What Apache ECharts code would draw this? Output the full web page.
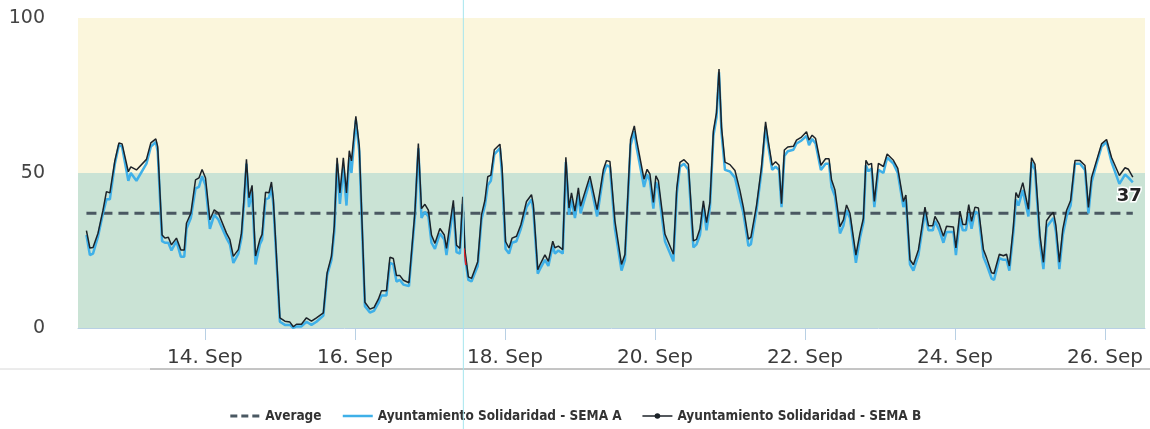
<!DOCTYPE html>
<html>
<head>
<meta charset="utf-8">
<script src="https://cdn.jsdelivr.net/npm/echarts@6/dist/echarts.min.js"></script>
<style>
html,body{margin:0;padding:0;background:#fff;}
#chart{width:1150px;height:429px;}
</style>
</head>
<body>
<div id="chart"></div>
<script>
// Hours since 12 Sep 00:00 for each reading
const hours = [10.1, 11.2, 12.2, 13.8, 15.4, 16.5, 17.6, 19.2, 20.5, 21.5,
 23.5, 24.3, 26.1, 29.3, 30.7, 32.3, 32.9, 34.3, 35.2, 36.3,
 37.3, 38.9, 40.3, 41.4, 42.1, 43.5, 45.0, 46.1, 47.1, 48.2,
 49.6, 51.0, 52.3, 54.9, 56.0, 57.1, 58.7, 59.7, 60.5, 61.3,
 62.1, 63.1, 64.2, 65.6, 66.3, 67.4, 68.5, 69.3, 69.9, 72.0,
 73.6, 75.2, 76.3, 77.3, 78.9, 80.5, 82.1, 83.7, 85.9, 87.1,
 88.5, 89.4, 90.3, 91.2, 92.3, 93.3, 94.2, 94.9, 96.3, 97.4,
 99.2, 100.8, 102.1, 103.5, 104.5, 106.1, 107.2, 108.3, 109.3, 110.4,
 111.5, 113.3, 115.2, 116.3, 117.3, 118.4, 119.5, 120.5, 121.6, 123.2,
 124.6, 125.3, 127.5, 128.5, 129.6, 130.5, 131.2, 132.3, 133.3, 135.3,
 136.5, 137.6, 138.5, 139.5, 140.6, 142.4, 143.1, 144.2, 145.3, 146.3,
 147.7, 149.1, 150.9, 152.5, 153.1, 154.5, 155.2, 156.8, 157.9, 159.3,
 160.0, 161.1, 162.5, 163.5, 164.5, 165.3, 166.4, 167.5, 168.2, 171.2,
 173.5, 175.5, 176.5, 177.6, 179.2, 181.3, 182.4, 184.2, 185.4, 186.1,
 188.5, 189.5, 190.4, 191.5, 192.3, 193.1, 195.2, 197.9, 199.0, 200.0,
 201.3, 202.7, 204.3, 205.3, 206.4, 207.5, 208.5, 209.6, 210.7, 211.7,
 212.5, 213.3, 214.4, 216.0, 217.6, 219.2, 220.3, 221.9, 222.7, 224.5,
 226.1, 227.4, 228.3, 229.5, 230.6, 231.7, 232.5, 233.4, 234.5, 236.3,
 237.3, 238.9, 240.5, 241.3, 242.3, 243.4, 245.1, 246.6, 247.7, 248.5,
 249.6, 251.2, 252.3, 253.3, 254.4, 256.3, 257.6, 258.7, 259.5, 260.3,
 261.3, 262.2, 263.5, 265.1, 266.3, 268.3, 269.7, 271.5, 272.3, 273.6,
 274.7, 276.3, 278.4, 279.5, 280.9, 281.6, 283.0, 284.3, 285.3, 287.5,
 288.3, 289.6, 290.5, 291.5, 292.4, 293.3, 294.4, 295.5, 297.1, 298.1,
 299.7, 300.5, 302.2, 303.5, 304.5, 305.4, 306.7, 307.5, 308.3, 309.7,
 311.5, 312.5, 313.6, 315.2, 316.3, 317.3, 318.4, 319.5, 320.3, 321.4,
 322.5, 323.7, 325.0, 326.4, 328.0, 329.6, 330.7, 331.7, 333.3, 334.9,
 336.5, 338.1, 340.6, 342.4, 343.5, 344.9];

const semaB = [31.4, 25.8, 26, 30.6, 38, 44, 43.6, 54, 59.7, 59.4,
 50.4, 52, 51, 54.4, 59.7, 61, 58.5, 30, 29, 29.3,
 26.8, 29, 25.2, 25.2, 33.8, 37, 47.8, 48.4, 51.1, 48.4,
 34.9, 38.1, 37.1, 30.6, 28.5, 23.1, 25.3, 30.6, 41.5, 54.4,
 42, 46, 23.2, 28.6, 30.2, 43.8, 43.6, 47.1, 41.5, 3.3,
 2.2, 1.9, 0.4, 1.2, 1.2, 3.3, 2.2, 3.3, 4.9, 17.8,
 23.2, 32.9, 54.9, 43.6, 54.9, 43.6, 57.2, 53.9, 68.3, 58.8,
 8.3, 6.1, 6.6, 9.3, 12, 12, 22.8, 22.4, 16.9, 16.9,
 15.4, 14.6, 37.5, 59.5, 38.5, 39.9, 38, 30, 27.3, 32.1,
 30, 25.7, 41.2, 26.7, 25.7, 42.3, 25.1, 16.5, 16, 21.4,
 36.5, 41.2, 48.8, 49.3, 57.5, 59.3, 51.6, 27.9, 25.8, 29,
 29.6, 33.3, 40.8, 43, 39.7, 18.8, 20.4, 23.6, 21.5, 28,
 25.9, 26.4, 25.3, 55.1, 38.7, 43.6, 37.7, 45.2, 39.3, 49,
 38.2, 51.1, 54, 53.7, 34.5, 20.5, 23.7, 60.8, 65.2, 60.8,
 48, 51.2, 49.6, 40.5, 49.1, 47.5, 30.3, 23.8, 45.3, 53.4,
 54.3, 52.8, 28.1, 28.6, 32, 41, 34, 40.5, 63.6, 69.5,
 83.5, 64.8, 53.5, 52.7, 50.8, 44.3, 38.9, 28.7, 29.3, 39.5,
 52, 66.5, 60, 52.5, 53.6, 52.5, 40.1, 57.4, 58.4, 58.6,
 60.6, 61.6, 63.3, 60.6, 62.2, 61.1, 52.5, 54.6, 54.6, 47.8,
 44.5, 32.7, 34.9, 39.7, 37, 23.5, 30.6, 35.4, 54.1, 52.6,
 53.1, 40.8, 53.1, 52.1, 56.1, 54.1, 51.5, 40.8, 42.9, 22,
 20.4, 25.2, 39, 33, 33, 36, 33.4, 29.6, 32.8, 32.6,
 25.8, 37.7, 33.4, 33.4, 39.8, 34.4, 39, 38.7, 25.3, 22.7,
 17.8, 17.6, 23.8, 23.3, 23.8, 20, 32.9, 43.7, 42, 46.9,
 38.3, 54.9, 52.8, 29.8, 21.2, 34.6, 36.2, 37.3, 33, 21.2,
 31.9, 37.9, 41.1, 54, 54, 52.4, 38.9, 48.6, 54, 59.4,
 60.8, 55, 49.2, 51.7, 51.2, 48.7];

const semaA = [30, 23.5, 24, 29.5, 37, 41.5, 41.5, 53, 59, 58.5,
 47.5, 50, 47.5, 53, 58.5, 60, 57, 28, 27.5, 27.5,
 25, 28, 23, 23, 32, 35.5, 45, 45.5, 49, 46,
 32, 36.5, 35, 29, 27, 21, 24, 29, 40, 53,
 39, 44, 20.5, 27, 28.5, 41.5, 42, 45.5, 40, 2,
 1, 1, 0, 0.5, 0.5, 2, 1, 2, 4, 17,
 22, 31, 53, 40, 52, 39.5, 55, 50, 67, 57,
 7, 5, 5.5, 8, 10.5, 10.5, 21, 20.5, 15, 15.5,
 14, 13.5, 36, 58, 35.5, 37.5, 36, 27.5, 25.5, 30.5,
 28.5, 23.5, 39, 24.5, 24, 40, 23, 15.5, 15, 20,
 35, 39.5, 46, 47.5, 56, 58, 49, 25.5, 24, 27.5,
 28, 32, 39, 41.5, 38, 17.5, 19, 22, 20, 26.5,
 24, 25, 24, 53.5, 36.5, 41.5, 35.5, 43, 37, 47.5,
 36, 49.5, 52.5, 52, 32, 18.5, 22, 59, 63.5, 58.5,
 45.5, 49.5, 47.5, 38.5, 47, 45, 28, 21.5, 43.5, 52,
 53, 51, 26, 27, 30, 39.5, 31.5, 39, 62, 68,
 82.5, 63, 51, 50.5, 48.5, 41.5, 37, 26.5, 27, 38,
 50.5, 65, 58.5, 51, 52, 51, 39, 55.5, 57, 57.5,
 59.5, 60.5, 62, 59, 61, 59.5, 51, 53, 53, 45.5,
 42.5, 30.5, 33, 38, 35.5, 21, 29, 34, 52.5, 50.5,
 51.5, 39, 51, 50, 55, 53, 50, 39, 41.5, 20.5,
 18.5, 23.5, 37.5, 31.5, 31.5, 34.5, 31.5, 27.5, 31, 31,
 23.5, 35.5, 31.5, 31.5, 37, 32, 37.5, 37, 23, 20.5,
 16, 15.5, 22.5, 22, 22, 18.5, 31, 41.5, 39.5, 44.5,
 36, 53.5, 51, 27.5, 19, 32.5, 34, 35.5, 31, 19,
 30, 36, 39.5, 53, 53, 51, 37, 47, 53, 58.5,
 60, 53.5, 46.5, 49.5, 48.5, 47];

const averageValue = 37;
const tickHours = [48, 96, 144, 192, 240, 288, 336];
const tickLabels = ['14. Sep', '16. Sep', '18. Sep', '20. Sep', '22. Sep', '24. Sep', '26. Sep'];
const yTicks = [0, 50, 100];
const axisStartHour = 7.4, axisEndHour = 348.8;
const crosshairHour = 130.7;
const highlightHours = [130.9, 131.5];
const highlightValues = [25.7, 20.3];

const nameAvg = 'Average';
const nameA = 'Ayuntamiento Solidaridad - SEMA A';
const nameB = 'Ayuntamiento Solidaridad - SEMA B';

const dataB = hours.map((h, i) => [h, semaB[i]]);
const dataA = hours.map((h, i) => [h, semaA[i]]);
const avgData = [[hours[0], averageValue], [hours[hours.length - 1], averageValue]];
const hiData = highlightHours.map((h, i) => [h, highlightValues[i]]);

const colAvg = '#4a5862', colA = '#3fb0e8', colB = '#1c2228';
const clear = 'rgba(0,0,0,0)';

const chart = echarts.init(document.getElementById('chart'), null, {renderer: 'canvas'});
const font = "'DejaVu Sans', sans-serif";
const option = {
  animation: false,
  backgroundColor: '#ffffff',
  grid: {left: 78, right: 5, top: 18, bottom: 101},
  legend: {
    top: 404, left: 'center', itemWidth: 30, itemHeight: 7, itemGap: 20,
    data: [
      {name: nameAvg, itemStyle: {color: clear, borderColor: clear, borderWidth: 0}, lineStyle: {color: colAvg, width: 3, type: [7, 4]}},
      {name: nameA, itemStyle: {color: clear, borderColor: clear, borderWidth: 0}, lineStyle: {color: colA, width: 2.5}},
      {name: nameB, itemStyle: {color: colB}, lineStyle: {color: colB, width: 1.5}}
    ],
    textStyle: {fontFamily: "'DejaVu Sans Condensed', 'DejaVu Sans', sans-serif", fontWeight: 'bold', fontSize: 13.5, color: '#333'}
  },
  xAxis: {
    type: 'value', min: axisStartHour, max: axisEndHour,
    splitLine: {show: false},
    axisLine: {show: true, lineStyle: {color: '#b8d0e4', width: 1}},
    axisTick: {show: true, length: 12, customValues: tickHours, lineStyle: {color: '#b8d0e4'}},
    axisLabel: {
      customValues: tickHours, margin: 20, fontSize: 20, color: '#3a3a3a', fontFamily: font,
      formatter: v => { const i = tickHours.indexOf(Math.round(v)); return i >= 0 ? tickLabels[i] : ''; }
    }
  },
  yAxis: {
    type: 'value', min: yTicks[0], max: yTicks[2], interval: 50,
    splitLine: {show: false}, axisLine: {show: false}, axisTick: {show: false},
    axisLabel: {margin: 33, fontSize: 19, color: '#444', fontFamily: font}
  },
  series: [
    {
      name: 'bands', type: 'line', data: [], silent: true, z: 0,
      markArea: {silent: true, data: [
        [{yAxis: 0, itemStyle: {color: '#cae3d5'}}, {yAxis: 50}],
        [{yAxis: 50, itemStyle: {color: '#fbf6dc'}}, {yAxis: 100}]
      ]}
    },
    {
      name: nameAvg, type: 'line', data: avgData, symbol: 'none', z: 2,
      color: colAvg,
      lineStyle: {color: colAvg, width: 3, type: [10, 6]},
      endLabel: {show: true, formatter: String(averageValue), distance: 0, offset: [-16, -17],
        fontSize: 18, fontWeight: 'bold', color: '#222', textBorderColor: '#fff', textBorderWidth: 3,
        fontFamily: font}
    },
    {
      name: nameA, type: 'line', data: dataA, symbol: 'none', z: 3,
      color: colA,
      lineStyle: {color: colA, width: 2.5}
    },
    {
      name: nameB, type: 'line', data: dataB, symbol: 'circle', symbolSize: 5,
      showSymbol: false, z: 4,
      color: colB,
      lineStyle: {color: colB, width: 1.5}
    },
    {
      name: 'highlight', type: 'line', data: hiData, symbol: 'none', z: 5,
      lineStyle: {color: '#e0242a', width: 1.5}
    }
  ]
};
chart.setOption(option);

const cx = chart.convertToPixel({xAxisIndex: 0}, crosshairHour);
chart.setOption({
  graphic: [
    {type: 'line', z: 10, shape: {x1: cx, y1: 0, x2: cx, y2: 429}, style: {stroke: '#a6e6ee', lineWidth: 1}},
    {type: 'line', z: -1, shape: {x1: 150, y1: 369, x2: 1150, y2: 369}, style: {stroke: '#8a8a8a', lineWidth: 1}},
    {type: 'line', z: -1, shape: {x1: 0, y1: 369, x2: 150, y2: 369}, style: {stroke: '#d8d8d8', lineWidth: 1}}
  ]
});
</script>
</body>
</html>
